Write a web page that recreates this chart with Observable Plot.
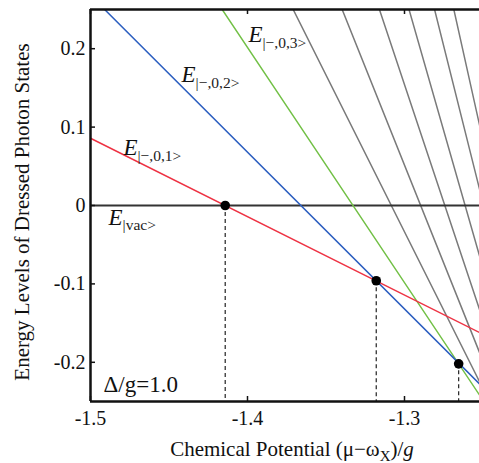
<!DOCTYPE html>
<html><head><meta charset="utf-8">
<script src="https://cdn.jsdelivr.net/npm/d3@7"></script>
<script src="https://cdn.jsdelivr.net/npm/@observablehq/plot@0.6"></script>
<style>
body{margin:0;background:#fff;}
svg text{font-family:"Liberation Serif","Times New Roman",serif !important;}
</style>
</head><body><div id="chart"></div>
<script>
// Dressed-state levels: E_n = -n (mu - mu0_n)
const photonNumbers = [0, 1, 2, 3, 4, 5, 6, 7, 8, 9];
const zeroCrossings = [0, -1.4142, -1.366, -1.3328, -1.3084, -1.2897, -1.2743, -1.2614, -1.2496, -1.2408];
const lineColors = ["#333333", "#ee3344", "#2d5fc0", "#72c046", "#7a7a7a", "#7a7a7a", "#7a7a7a", "#7a7a7a", "#7a7a7a", "#7a7a7a"];
const muRange = [-1.5, -1.25];
const energyRange = [-0.25, 0.25];

// crossing points (dots)
const dotMu = [-1.4142, -1.318, -1.2655];
const dotE = [0, -0.096, -0.202];

// labels
const labelMu = [-1.4885, -1.479, -1.442, -1.3994];
const labelE = [-0.0153, 0.0739, 0.1669, 0.2178];
const labelSub = ["|vac>", "|\u2212,0,1>", "|\u2212,0,2>", "|\u2212,0,3>"];

const xTicks = [-1.5, -1.4, -1.3];
const yTicks = [-0.2, -0.1, 0, 0.1, 0.2];
const detuning = 1.0;

const order = [4, 5, 6, 7, 8, 9, 0, 3, 2, 1];
const lineData = [];
order.forEach(i => {
  muRange.forEach(m => {
    lineData.push({n: photonNumbers[i], mu: m, E: -photonNumbers[i] * (m - zeroCrossings[i]), color: lineColors[i]});
  });
});
const dots = dotMu.map((m, i) => ({mu: m, E: dotE[i]}));
const labels = labelMu.map((m, i) => ({mu: m, E: labelE[i], sub: labelSub[i]}));

const W = 479, H = 463, mL = 90, mT = 9, mB = 62;
const frameW = W - mL, frameH = H - mT - mB;
const fmt = d => d === 0 ? "0" : d.toFixed(1);
const serif = "Liberation Serif";

const svg = Plot.plot({
  width: W, height: H,
  marginLeft: mL, marginRight: 0, marginTop: mT, marginBottom: mB,
  style: {fontFamily: "'Liberation Serif', 'Times New Roman', serif", fontSize: "20px", background: "#fff", color: "#111"},
  x: {domain: muRange, range: [mL, mL + 392.5], axis: null},
  y: {domain: energyRange, axis: null},
  marks: [
    Plot.line(lineData, {x: "mu", y: "E", z: "n", stroke: "color", strokeWidth: d => d.n === 0 ? 2 : 1.5, clip: true}),
    Plot.ruleX(dots, {x: "mu", y1: "E", y2: energyRange[0], stroke: "#222", strokeWidth: 1.2, strokeDasharray: "4,3"}),
    Plot.dot(dots, {x: "mu", y: "E", r: 4.8, fill: "#000"}),
    Plot.text(labels, {x: "mu", y: "E", text: () => "E", fontFamily: serif, fontStyle: "italic", fontSize: 23, textAnchor: "start", lineAnchor: "middle", fill: "#111"}),
    Plot.text(labels, {x: "mu", y: "E", text: "sub", fontFamily: serif, fontSize: 15.5, dx: 14, dy: 8, textAnchor: "start", lineAnchor: "middle", fill: "#222"}),
    Plot.text([`\u0394/g=${detuning.toFixed(1)}`], {frameAnchor: "bottom-left", dx: 13, dy: -10, fontFamily: serif, textAnchor: "start", lineAnchor: "bottom", fontSize: 23, fill: "#111"}),
    // frame
    Plot.ruleY([energyRange[0], energyRange[1]], {stroke: "#111", strokeWidth: 2.5}),
    Plot.ruleX([muRange[0]], {stroke: "#111", strokeWidth: 2.5}),
    // inward ticks
    Plot.tickX(xTicks, {x: d => d, insetTop: frameH - 5, stroke: "#111", strokeWidth: 1.5}),
    Plot.tickX(xTicks, {x: d => d, insetBottom: frameH - 5, stroke: "#111", strokeWidth: 1.5}),
    Plot.tickY(yTicks, {y: d => d, insetRight: frameW - 5, stroke: "#111", strokeWidth: 1.5}),
    // tick labels
    Plot.axisX({ticks: xTicks, tickSize: 0, tickPadding: 9, tickFormat: fmt, fontSize: 20, fontFamily: serif, label: null}),
    Plot.axisY({ticks: yTicks, tickSize: 0, tickPadding: 5, tickFormat: fmt, fontSize: 20, fontFamily: serif, label: null})
  ]
});

const sel = d3.select(svg);
sel.append("text")
  .attr("transform", "translate(24,212) rotate(-90)")
  .attr("text-anchor", "middle").attr("dominant-baseline", "middle")
  .attr("font-size", 21).attr("fill", "#111")
  .text("Energy Levels of Dressed Photon States");
const xl = sel.append("text")
  .attr("x", 292).attr("y", 456)
  .attr("text-anchor", "middle").attr("font-size", 21).attr("fill", "#111");
xl.append("tspan").text("Chemical Potential (\u03bc\u2212\u03c9");
xl.append("tspan").attr("dy", 5).attr("font-size", 15).text("X");
xl.append("tspan").attr("dy", -5).text(")/");
xl.append("tspan").attr("font-style", "italic").text("g");

document.getElementById("chart").appendChild(svg);
</script>
</body></html>
